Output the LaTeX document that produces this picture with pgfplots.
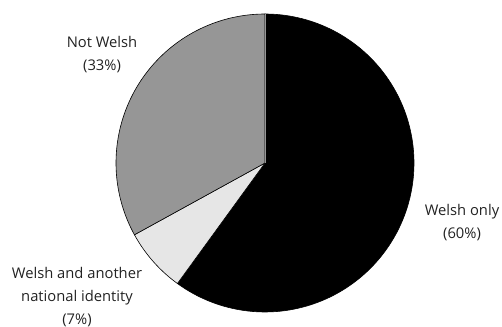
\documentclass[border=0pt]{standalone}
\usepackage{pgfplots}
\pgfplotsset{compat=1.18}
\usepackage{pgfplotstable}
\usepackage{fontspec}
\setmainfont{Open Sans}
\pgfplotstableread{
label value
WelshOnly 60
Other 7
NotWelsh 33
}\pietable
\pgfplotstablegetelem{0}{value}\of\pietable \let\va\pgfplotsretval
\pgfplotstablegetelem{1}{value}\of\pietable \let\vb\pgfplotsretval
\pgfplotstablegetelem{2}{value}\of\pietable \let\vc\pgfplotsretval
\pgfmathsetmacro\aA{90}
\pgfmathsetmacro\aB{90-3.6*\va}
\pgfmathsetmacro\aC{\aB-3.6*\vb}
\pgfmathsetmacro\aD{\aC-3.6*\vc}
\definecolor{midgray}{HTML}{969696}
\definecolor{lightgray}{HTML}{E6E6E6}
\definecolor{txt}{HTML}{222222}
\def\cx{265}
\def\cy{164}
\def\r{149}
\begin{document}
\begin{tikzpicture}
\clip (0,0) rectangle (502bp,327bp);
\begin{axis}[
  at={(0,0)}, anchor=south west,
  scale only axis, width=502bp, height=327bp,
  xmin=0, xmax=502, ymin=0, ymax=327,
  hide axis, clip=false,
]
\addplot[fill=black, draw=black, line width=0.6bp, samples=120, domain=\aA:\aB, variable=\t]
  ({\cx+\r*cos(\t)}, {\cy+\r*sin(\t)}) -- (axis cs:\cx,\cy) -- cycle;
\addplot[fill=lightgray, draw=black, line width=0.6bp, samples=30, domain=\aB:\aC, variable=\t]
  ({\cx+\r*cos(\t)}, {\cy+\r*sin(\t)}) -- (axis cs:\cx,\cy) -- cycle;
\addplot[fill=midgray, draw=black, line width=0.6bp, samples=100, domain=\aC:\aD, variable=\t]
  ({\cx+\r*cos(\t)}, {\cy+\r*sin(\t)}) -- (axis cs:\cx,\cy) -- cycle;
\draw[midgray, line width=0.8bp] (axis cs:\cx,\cy) -- (axis cs:\cx,{\cy+\r-0.5});
\node[align=center, text=txt, font=\fontsize{14.8}{23}\selectfont] at (axis cs:102,272) {Not Welsh\\(\vc\%)};
\node[align=center, text=txt, font=\fontsize{14.8}{23}\selectfont] at (axis cs:462,104) {Welsh only\\(\va\%)};
\node[align=center, text=txt, font=\fontsize{14.8}{23}\selectfont] at (axis cs:77,30) {Welsh and another\\national identity\\(\vb\%)};
\end{axis}
\end{tikzpicture}
\end{document}
